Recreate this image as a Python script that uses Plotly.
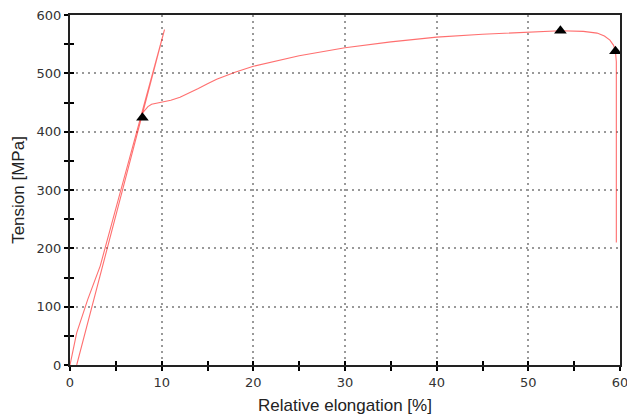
import plotly.graph_objects as go

# Main tensile curve (toe region, elastic line, yield knee, hardening, fracture)
curve_x = [0.0, 0.3, 0.73, 1.93, 3.3, 7.8, 8.1, 8.5, 8.9, 9.5, 10.1, 11.0, 12.0, 13.0, 14.0, 15.0, 16.0,
           18.0, 20.0, 25.0, 30.0, 35.0, 40.0, 45.0, 50.0, 53.5, 56.0, 57.5, 58.3, 58.9, 59.3, 59.5,
           59.6, 59.6]
curve_y = [0, 25, 55, 112, 170, 430, 436, 443, 447, 449, 451, 454, 459, 466, 474, 482, 490,
           502, 512, 530, 544, 554, 562, 567, 571, 573, 572, 569, 564, 557, 548, 538,
           520, 210]

# Unloading / reloading loop near the elastic line
loop_x = [7.8, 10.31, 0.73]
loop_y = [430, 575, 0]

# Characteristic points (triangles)
pts_x = [7.9, 53.5, 59.5]
pts_y = [424, 573, 538]

x_ticks = [0, 10, 20, 30, 40, 50, 60]
y_ticks = [0, 100, 200, 300, 400, 500, 600]

line_color = "rgba(255,50,50,0.7)"

fig = go.Figure()
fig.add_trace(go.Scatter(x=curve_x, y=curve_y, mode="lines",
                         line=dict(color=line_color, width=1.1), hoverinfo="skip"))
fig.add_trace(go.Scatter(x=loop_x, y=loop_y, mode="lines",
                         line=dict(color=line_color, width=1.1), hoverinfo="skip"))
fig.add_trace(go.Scatter(x=pts_x, y=pts_y, mode="markers",
                         marker=dict(symbol="triangle-up", size=11, color="black"),
                         hoverinfo="skip"))
# invisible trace for overlay axes (inside tick halves)
fig.add_trace(go.Scatter(x=pts_x, y=pts_y, mode="markers", xaxis="x2", yaxis="y2",
                         marker=dict(opacity=0), hoverinfo="skip", showlegend=False))

tickfont = dict(family="DejaVu Sans", size=13, color="#333")
titlefont = dict(family="Liberation Sans", size=17, color="#222")
grid_dash = "2px,4px"

fig.update_layout(
    width=635, height=417,
    margin=dict(l=62, r=23, t=7, b=60),
    paper_bgcolor="white", plot_bgcolor="white",
    showlegend=False,
    xaxis=dict(range=[0, 60], tickvals=x_ticks, ticks="outside", ticklen=4, tickwidth=2,
               tickcolor="black", showline=True, linecolor="#222", linewidth=2, mirror=True,
               showgrid=True, gridcolor="#999", griddash=grid_dash, gridwidth=1.5,
               zeroline=False, tickfont=tickfont, automargin=False,
               ticklabeloverflow="allow",
               minor=dict(dtick=5, ticks="outside", ticklen=4, tickwidth=2, tickcolor="black",
                          showgrid=False),
               title=dict(text="Relative elongation [%]", font=titlefont, standoff=11)),
    yaxis=dict(range=[0, 600], tickvals=y_ticks, ticks="outside", ticklen=4, tickwidth=2,
               tickcolor="black", showline=True, linecolor="#222", linewidth=2, mirror=True,
               showgrid=True, gridcolor="#999", griddash=grid_dash, gridwidth=1.5,
               zeroline=False, tickfont=tickfont, automargin=False,
               ticklabeloverflow="allow",
               minor=dict(dtick=50, ticks="outside", ticklen=4, tickwidth=2, tickcolor="black",
                          showgrid=False),
               title=dict(text="Tension [MPa]", font=titlefont, standoff=8)),
    xaxis2=dict(range=[0, 60], overlaying="x", anchor="y2", side="bottom",
                tickvals=x_ticks, ticks="inside", ticklen=4, tickwidth=2, tickcolor="black",
                showticklabels=False, showgrid=False, zeroline=False, showline=False,
                automargin=False,
                minor=dict(dtick=5, ticks="inside", ticklen=4, tickwidth=2, tickcolor="black")),
    yaxis2=dict(range=[0, 600], overlaying="y", anchor="x2", side="left",
                tickvals=y_ticks, ticks="inside", ticklen=4, tickwidth=2, tickcolor="black",
                showticklabels=False, showgrid=False, zeroline=False, showline=False,
                automargin=False,
                minor=dict(dtick=50, ticks="inside", ticklen=4, tickwidth=2, tickcolor="black")),
)

fig.write_html("out.html")
